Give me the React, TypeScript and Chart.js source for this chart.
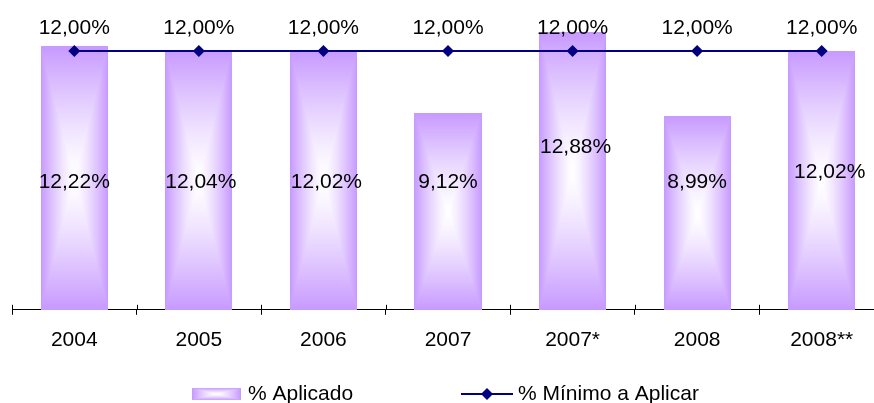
import React, { useEffect, useRef } from "react";
import { Chart, registerables } from "chart.js";

Chart.register(...registerables);

const categories = ["2004", "2005", "2006", "2007", "2007*", "2008", "2008**"];
const aplicado = [12.22, 12.04, 12.02, 9.12, 12.88, 8.99, 12.02];
const minimo = [12, 12, 12, 12, 12, 12, 12];
const seriesNames = ["% Aplicado", "% Mínimo a Aplicar"];
// where the (hand-placed) bar labels sit, in value units
const barLabelLevels = [6.0, 5.98, 5.98, 6.0, 7.6, 6.0, 6.45];
const barLabelShiftX = [0, 2, 3, 0, 3, 0, 8];

const FONT = "'Liberation Sans', Arial, sans-serif";
const FONT_SIZE = 21;
const EDGE = [199, 153, 255];
const NAVY = "#000080";

function fmt(v: number) {
  return v.toFixed(2).replace(".", ",") + "%";
}

function pathGradient(w: number, h: number) {
  const c = document.createElement("canvas");
  c.width = Math.max(1, w);
  c.height = Math.max(1, h);
  const cx = c.getContext("2d")!;
  const img = cx.createImageData(c.width, c.height);
  const hw = c.width / 2;
  const hh = c.height / 2;
  for (let y = 0; y < c.height; y++) {
    for (let x = 0; x < c.width; x++) {
      const dx = Math.abs(x + 0.5 - hw) / hw;
      const dy = Math.abs(y + 0.5 - hh) / hh;
      const t = Math.max(dx, dy);
      const f = Math.pow(t, 1.3);
      const i = (y * c.width + x) * 4;
      img.data[i] = Math.round(255 + (EDGE[0] - 255) * f);
      img.data[i + 1] = Math.round(255 + (EDGE[1] - 255) * f);
      img.data[i + 2] = Math.round(255 + (EDGE[2] - 255) * f);
      img.data[i + 3] = 255;
    }
  }
  cx.putImageData(img, 0, 0);
  return c;
}

const customPlugin = {
  id: "customDraw",
  afterDatasetDraw(chart: any, args: any) {
    if (args.index !== 0) return;
    const ctx = chart.ctx;
    const meta = chart.getDatasetMeta(0);
    ctx.save();
    meta.data.forEach((el: any) => {
      const p = el.getProps(["x", "y", "base", "width"], true);
      const left = Math.round(p.x - p.width / 2);
      const right = Math.round(p.x + p.width / 2);
      const top = Math.round(Math.min(p.y, p.base));
      const bottom = Math.round(Math.max(p.y, p.base));
      ctx.drawImage(pathGradient(right - left, bottom - top), left, top);
    });
    ctx.restore();
  },
  afterDraw(chart: any) {
    const ctx = chart.ctx;
    const xs = chart.scales.x;
    const ys = chart.scales.y;
    const area = chart.chartArea;
    ctx.save();
    // upward half of the axis tick marks
    ctx.strokeStyle = "#000";
    ctx.lineWidth = 1;
    const n = categories.length;
    const step = (area.right - area.left) / n;
    for (let i = 0; i <= n; i++) {
      const x = Math.round(area.left + i * step) + 0.5;
      ctx.beginPath();
      ctx.moveTo(x, area.bottom - 5);
      ctx.lineTo(x, area.bottom);
      ctx.stroke();
    }
    // labels
    ctx.fillStyle = "#000";
    ctx.font = `${FONT_SIZE}px ${FONT}`;
    ctx.textAlign = "center";
    ctx.textBaseline = "alphabetic";
    const lineMeta = chart.getDatasetMeta(1);
    lineMeta.data.forEach((pt: any, i: number) => {
      ctx.fillText(fmt(minimo[i]), pt.x, pt.y - 17.5);
    });
    const barMeta = chart.getDatasetMeta(0);
    barMeta.data.forEach((b: any, i: number) => {
      const y = ys.getPixelForValue(barLabelLevels[i]);
      ctx.fillText(fmt(aplicado[i]), b.x + barLabelShiftX[i], y + 7.5);
    });
    // legend
    const sw = pathGradient(49, 12);
    ctx.drawImage(sw, 192, 388);
    ctx.textAlign = "left";
    ctx.fillText(seriesNames[0], 248, 400);
    ctx.strokeStyle = NAVY;
    ctx.lineWidth = 2;
    ctx.beginPath();
    ctx.moveTo(461, 394);
    ctx.lineTo(513, 394);
    ctx.stroke();
    ctx.fillStyle = NAVY;
    ctx.beginPath();
    ctx.moveTo(487 - 6, 394);
    ctx.lineTo(487, 394 - 6);
    ctx.lineTo(487 + 6, 394);
    ctx.lineTo(487, 394 + 6);
    ctx.closePath();
    ctx.fill();
    ctx.fillStyle = "#000";
    ctx.fillText(seriesNames[1], 518, 400);
    ctx.restore();
  },
};

export default function App() {
  const ref = useRef<HTMLCanvasElement>(null);
  useEffect(() => {
    if (!ref.current) return;
    const chart = new Chart(ref.current, {
      type: "bar",
      data: {
        labels: categories,
        datasets: [
          {
            type: "bar",
            label: seriesNames[0],
            data: aplicado,
            backgroundColor: "rgba(0,0,0,0)",
            borderWidth: 0,
            barPercentage: 0.54,
            categoryPercentage: 1,
            order: 1,
          } as any,
          {
            type: "line",
            label: seriesNames[1],
            data: minimo,
            borderColor: NAVY,
            borderWidth: 2,
            backgroundColor: NAVY,
            pointStyle: "rectRot",
            pointRadius: 6,
            pointBorderWidth: 0,
            pointBackgroundColor: NAVY,
            pointBorderColor: NAVY,
            fill: false,
            tension: 0,
            order: 0,
          } as any,
        ],
      },
      options: {
        responsive: false,
        animation: false,
        events: [],
        layout: { padding: { left: 12, right: 16, top: 8, bottom: 37 } },
        plugins: { legend: { display: false }, tooltip: { enabled: false } },
        scales: {
          x: {
            offset: true,
            grid: {
              display: true,
              offset: true,
              drawOnChartArea: false,
              drawTicks: true,
              tickLength: 5,
              color: "#000",
            },
            border: { display: true, color: "#000", width: 1 },
            ticks: {
              color: "#000",
              font: { family: FONT, size: FONT_SIZE },
              padding: 13,
              maxRotation: 0,
              autoSkip: false,
            },
          },
          y: { display: false, min: 0, max: 14 },
        },
      },
      plugins: [customPlugin],
    });
    return () => chart.destroy();
  }, []);
  return (
    <div style={{ position: "absolute", left: 0, top: 0, width: 874, height: 403, overflow: "hidden", background: "#fff" }}>
      <canvas ref={ref} width={900} height={403} style={{ display: "block" }} />
    </div>
  );
}
